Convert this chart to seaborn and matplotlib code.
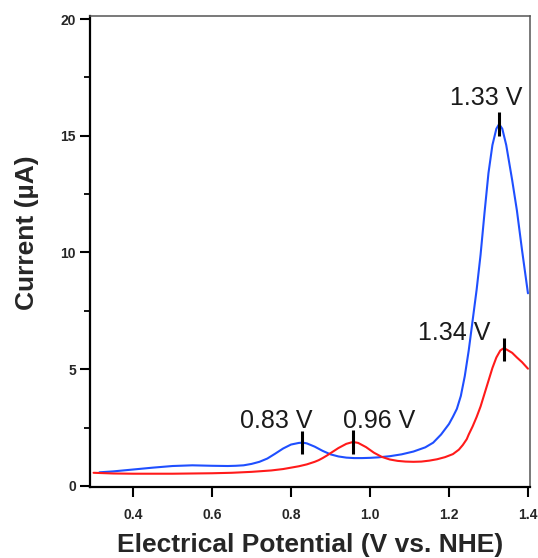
import numpy as np
import pandas as pd
import matplotlib
matplotlib.use("Agg")
import matplotlib.pyplot as plt
import seaborn as sns

# ---- data ----
blue_x = [0.315, 0.35, 0.40, 0.45, 0.50, 0.55, 0.60, 0.64, 0.66, 0.68, 0.70, 0.72, 0.74, 0.76,
          0.78, 0.80, 0.82, 0.83, 0.84, 0.86, 0.88, 0.90, 0.92, 0.94, 0.96, 0.98, 1.00, 1.02,
          1.05, 1.08, 1.11, 1.14, 1.16, 1.18, 1.20, 1.21, 1.22, 1.23, 1.24, 1.25, 1.26, 1.27,
          1.28, 1.29, 1.30, 1.31, 1.32, 1.327, 1.335, 1.345, 1.36, 1.372, 1.385, 1.40]
blue_y = [0.58, 0.62, 0.70, 0.78, 0.85, 0.88, 0.86, 0.85, 0.86, 0.88, 0.94, 1.03, 1.17, 1.38,
          1.60, 1.77, 1.84, 1.85, 1.82, 1.68, 1.50, 1.35, 1.26, 1.21, 1.19, 1.19, 1.20, 1.22,
          1.27, 1.35, 1.47, 1.65, 1.85, 2.20, 2.65, 2.96, 3.30, 3.85, 4.70, 5.80, 7.10, 8.40,
          9.90, 11.70, 13.40, 14.60, 15.30, 15.50, 15.30, 14.60, 13.10, 11.80, 10.10, 8.25]

red_x = [0.30, 0.35, 0.40, 0.45, 0.50, 0.55, 0.60, 0.65, 0.70, 0.75, 0.78, 0.80, 0.82, 0.84,
         0.86, 0.87, 0.88, 0.89, 0.90, 0.92, 0.94, 0.957, 0.97, 0.99, 1.01, 1.03, 1.05, 1.07,
         1.09, 1.11, 1.13, 1.15, 1.17, 1.19, 1.21, 1.225, 1.235, 1.245, 1.25, 1.26, 1.27, 1.28,
         1.29, 1.30, 1.31, 1.32, 1.33, 1.337, 1.345, 1.36, 1.372, 1.385, 1.40]
red_y = [0.56, 0.53, 0.52, 0.52, 0.52, 0.53, 0.54, 0.56, 0.60, 0.66, 0.72, 0.78, 0.84, 0.92,
         1.03, 1.10, 1.19, 1.29, 1.40, 1.62, 1.80, 1.88, 1.84, 1.66, 1.42, 1.24, 1.13, 1.07,
         1.04, 1.03, 1.04, 1.08, 1.14, 1.23, 1.36, 1.55, 1.75, 2.00, 2.20, 2.55, 2.95, 3.40,
         3.95, 4.50, 5.05, 5.50, 5.80, 5.88, 5.85, 5.70, 5.50, 5.30, 5.02]

peak_x = [0.828, 0.957, 1.327, 1.339]
peak_y = [1.85, 1.88, 15.50, 5.85]
peak_labels = ["0.83 V", "0.96 V", "1.33 V", "1.34 V"]
label_pos = [(0.763, 2.48), (1.024, 2.48), (1.295, 16.32), (1.213, 6.25)]

x_ticks = [0.4, 0.6, 0.8, 1.0, 1.2, 1.4]
x_ticklabels = ["0.4", "0.6", "0.8", "1.0", "1.2", "1.4"]
y_ticks = [0, 5, 10, 15, 20]
y_ticklabels = ["0", "5", "10", "15", "20"]

df = pd.concat([
    pd.DataFrame({"E": blue_x, "I": blue_y, "s": "blue"}),
    pd.DataFrame({"E": red_x, "I": red_y, "s": "red"}),
])

sns.set_style("ticks")
plt.rcParams["font.family"] = ["Liberation Sans", "DejaVu Sans"]

fig = plt.figure(figsize=(5.38, 5.58), dpi=100)
ax = fig.add_axes([0.1673, 0.1272, 0.8177, 0.8441])

sns.lineplot(data=df, x="E", y="I", hue="s", palette={"blue": "#1f4fff", "red": "#ff1a1a"},
             sort=False, estimator=None, linewidth=1.5, legend=False, ax=ax)

for px, py in zip(peak_x, peak_y):
    ax.plot([px, px], [py - 0.5, py + 0.5], color="black", linewidth=2.2, solid_capstyle="butt")
for lab, (tx, ty) in zip(peak_labels, label_pos):
    ax.text(tx, ty, lab, ha="center", va="baseline", fontsize=18, color="#1a1a1a")

ax.set_xlim(0.291, 1.405)
ax.set_ylim(-0.05, 20.13)
ax.set_xticks(x_ticks)
ax.set_xticklabels(x_ticklabels)
ax.set_yticks(y_ticks)
ax.set_yticklabels(y_ticklabels)
ax.set_yticks([2.5, 7.5, 12.5, 17.5], minor=True)

for lab in ax.get_xticklabels() + ax.get_yticklabels():
    lab.set_fontweight("bold")
ax.tick_params(axis="both", which="major", length=7, width=1.5, color="black",
               labelsize=10, direction="out")
ax.tick_params(axis="x", pad=8)
ax.tick_params(axis="y", pad=3)
ax.tick_params(axis="y", which="minor", length=4, width=1.3, color="black")

for side in ["left", "bottom"]:
    ax.spines[side].set_color("black")
    ax.spines[side].set_linewidth(1.6)
for side in ["top", "right"]:
    ax.spines[side].set_color("#555555")
    ax.spines[side].set_linewidth(1.1)

ax.set_xlabel("Electrical Potential (V vs. NHE)", fontsize=19, fontweight="bold", labelpad=8)
ax.set_ylabel("Current (µA)", fontsize=19, fontweight="bold")
ax.yaxis.set_label_coords(-0.115, 0.541)

fig.savefig("out.png", dpi=100)
